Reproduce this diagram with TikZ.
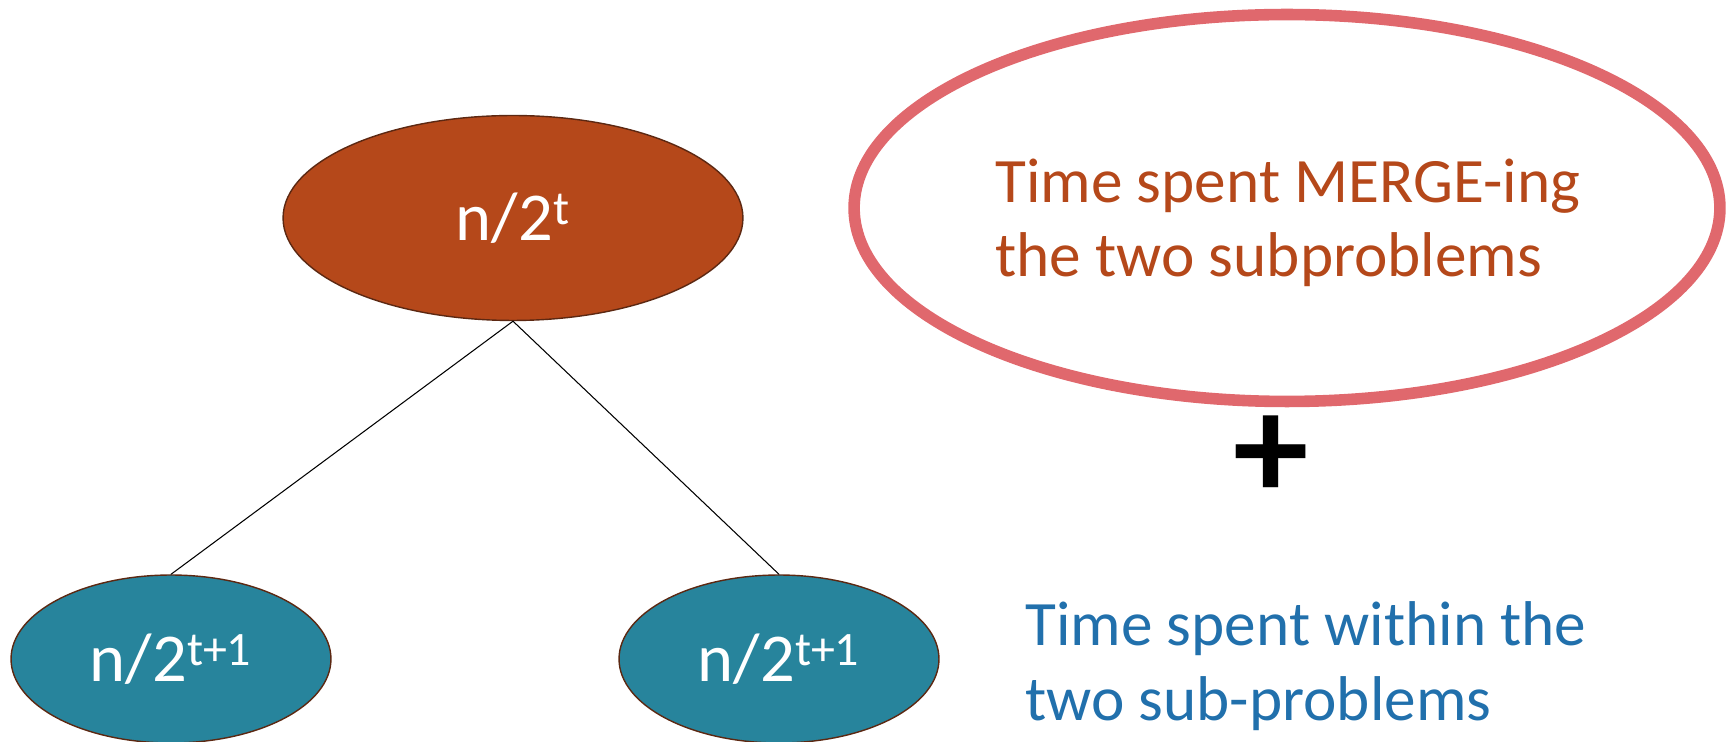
\documentclass[tikz,border=0pt]{standalone}
\usepackage{fontspec}
\setmainfont{Carlito}
\usetikzlibrary{shapes.geometric}
\definecolor{rust}{HTML}{B5481A}
\definecolor{rustedge}{HTML}{5C2812}
\definecolor{teal}{HTML}{27849C}
\definecolor{pinkred}{HTML}{E0686D}
\definecolor{ink}{HTML}{2170AC}
\begin{document}
\begin{tikzpicture}[
	x=0.02cm, y=-0.02cm,
	line join=round, line cap=round,
	treenode/.style={ellipse, draw=rustedge, line width=0.8pt, inner sep=0pt, text=white, font=\fontsize{39}{40}\selectfont},
	bignode/.style={treenode, fill=rust, minimum width=9.2cm, minimum height=4.1cm},
	subnode/.style={treenode, fill=teal, minimum width=6.4cm, minimum height=3.36cm},
	sidetext/.style={align=left, inner sep=0pt, font=\fontsize{36}{42.5}\selectfont}
	]
	\useasboundingbox (0,0) rectangle (1734,742);
	\node[bignode] (top) at (513,218) {n/2\textsuperscript{t}};
	\node[subnode] (left) at (171,659) {n/2\textsuperscript{t+1}};
	\node[subnode] (right) at (779,659) {n/2\textsuperscript{t+1}};
	\draw[line width=0.6pt] (top.south) -- (left.north);
	\draw[line width=0.6pt] (top.south) -- (right.north);
	% merge cost
	\node[ellipse, draw=pinkred, line width=6.6pt, minimum width=17.32cm, minimum height=7.74cm] (merge) at (1287,208) {};
	\node[sidetext, text=rust, anchor=base west] (mergetxt) at (995,277) {Time spent MERGE-ing\\the two subproblems};
	\node[font=\fontsize{86}{86}\selectfont\bfseries, inner sep=0pt] (plus) at (1271,458) {+};
	% recursive cost
	\node[sidetext, text=ink, anchor=base west] (subtxt) at (1025,720) {Time spent within the\\two sub-problems};
\end{tikzpicture}
\end{document}
